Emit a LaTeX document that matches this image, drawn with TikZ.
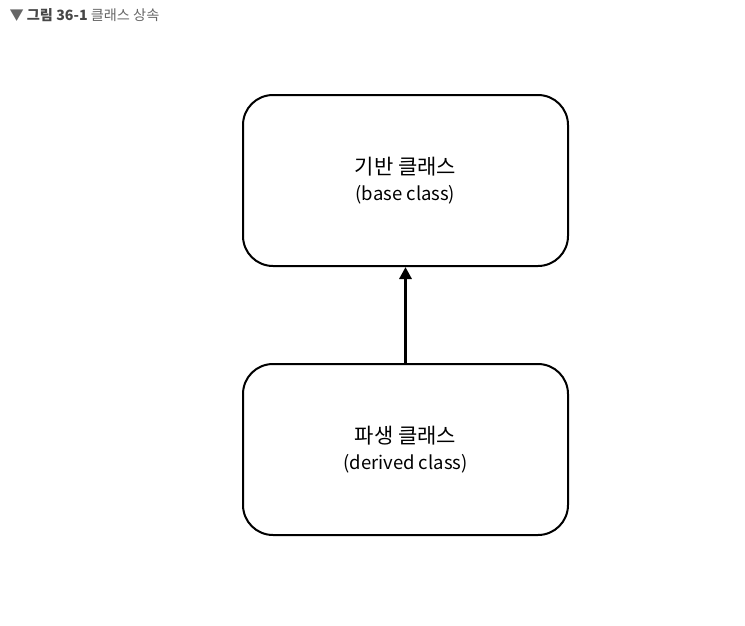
\documentclass[tikz,border=0pt]{standalone}
\usepackage{fontspec}
\setmainfont{Noto Sans CJK KR}
\usetikzlibrary{arrows.meta}

\tikzset{
    classbox/.style={draw=black, line width=2pt, rounded corners=30pt,
        minimum width=325pt, minimum height=171pt, align=center, inner sep=0pt,
        font=\fontsize{21}{26}\selectfont},
    inherit/.style={line width=3.8pt, -{Triangle[width=12pt,length=12pt]}},
}
\newcommand{\engline}[1]{{\fontsize{18.5}{26}\selectfont #1}}

\begin{document}
\begin{tikzpicture}[x=1pt, y=-1pt]
            \useasboundingbox (0,0) rectangle (745,625);

            \node[anchor=base west, text=black!60, font=\fontsize{14.2}{16}\selectfont] (caption) at (6,20.5)
                {▼ \textbf{\color{black!72}그림 36-1} 클래스 상속};

            \node[classbox] (base) at (405.5,180.5)
                {기반 클래스\\\engline{(base class)}};
            \node[classbox] (derived) at (405.5,449.5)
                {파생 클래스\\\engline{(derived class)}};

            \draw[inherit] (derived.north) -- (base.south);
        \end{tikzpicture}
\end{document}
